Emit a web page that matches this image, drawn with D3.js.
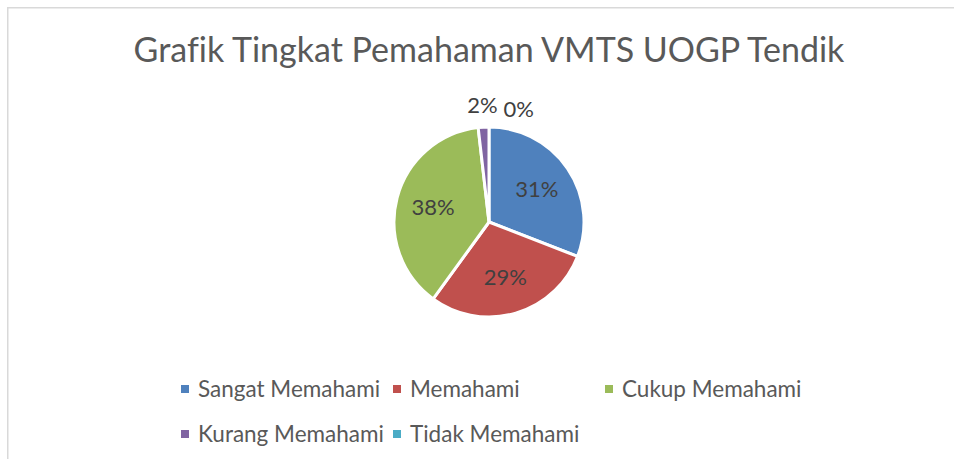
<!DOCTYPE html>
<html>
<head>
<meta charset="utf-8">
<script src="https://cdn.jsdelivr.net/npm/d3@7"></script>
<style>
  body { margin: 0; background: #fff; }
  svg { display: block; }
  text { font-variant-ligatures: none; }
</style>
</head>
<body>
<div id="chart"></div>
<script>
// data (respondent counts read from the percentages)
var categories = ["Sangat Memahami", "Memahami", "Cukup Memahami", "Kurang Memahami", "Tidak Memahami"];
var values = [17, 16, 21, 1, 0];
var colors = ["#4F81BD", "#C0504D", "#9BBB59", "#8064A2", "#4BACC6"];
var title = "Grafik Tingkat Pemahaman VMTS UOGP Tendik";

var width = 954, height = 459;
var font = "Lato, 'Open Sans', sans-serif";

var svg = d3.select("#chart")
  .append("svg")
    .attr("width", width)
    .attr("height", height);

// chart area border (cut off at right and bottom like the screenshot)
svg.append("rect")
  .attr("x", 7.75)
  .attr("y", 7.75)
  .attr("width", width + 20)
  .attr("height", height + 20)
  .attr("fill", "none")
  .attr("stroke", "#d9d9d9")
  .attr("stroke-width", 1.5);

// title
svg.append("text")
  .attr("x", 489)
  .attr("y", 62)
  .attr("text-anchor", "middle")
  .style("font-family", font)
  .style("font-size", "34px")
  .style("fill", "#595959")
  .text(title);

// pie
var cx = 489, cy = 222, radius = 95;
var total = d3.sum(values);
var fmt = d3.format(".0%");

var data = categories.map(function(c, i) {
  return { name: c, value: values[i], color: colors[i] };
});

var pie = d3.pie()
  .sort(null)
  .value(function(d) { return d.value; });

var arc = d3.arc()
  .innerRadius(0)
  .outerRadius(radius);

var arcs = pie(data);

var g = svg.append("g")
  .attr("transform", "translate(" + cx + "," + cy + ")");

g.selectAll("path")
  .data(arcs.filter(function(d) { return d.data.value > 0; }))
  .enter()
  .append("path")
    .attr("d", arc)
    .attr("fill", function(d) { return d.data.color; })
    .attr("stroke", "#fff")
    .attr("stroke-width", 3)
    .attr("stroke-linejoin", "round");

// labels: inside for big slices, outside for the tiny ones
var inArc = d3.arc().innerRadius(radius * 0.61).outerRadius(radius * 0.61);
var outR = radius + 22;
var placed = [];

arcs.forEach(function(d) {
  var share = d.data.value / total;
  var txt = fmt(share);
  var x, y;
  if (share >= 0.05) {
    var p = inArc.centroid(d);
    x = p[0]; y = p[1];
  } else {
    var a = (d.startAngle + d.endAngle) / 2;
    x = outR * Math.sin(a);
    y = -outR * Math.cos(a);
  }
  var t = g.append("text")
    .attr("x", x)
    .attr("y", y)
    .attr("dy", "0.35em")
    .attr("text-anchor", "middle")
    .style("font-family", font)
    .style("font-size", "22px")
    .style("fill", "#404040")
    .text(txt);

  // push overlapping outside labels to the right along the label circle
  if (share < 0.05) {
    var w = t.node().getComputedTextLength();
    placed.forEach(function(b) {
      if (Math.abs(b.x - x) < (b.w + w) / 2 + 6 && Math.abs(b.y - y) < 20) {
        x = b.x + (b.w + w) / 2 + 6;
        y = -Math.sqrt(Math.max(outR * outR - x * x, 0));
      }
    });
    t.attr("x", x).attr("y", y);
    placed.push({ x: x, y: y, w: w });
  }
});

// legend: 3 columns, 2 rows
var legX = 181, colW = 212, legY = 397, rowH = 45, perRow = 3;

var leg = svg.append("g")
  .selectAll("g")
  .data(data)
  .enter()
  .append("g")
    .attr("transform", function(d, i) {
      return "translate(" + (legX + (i % perRow) * colW) + "," + (legY + Math.floor(i / perRow) * rowH) + ")";
    });

leg.append("rect")
  .attr("x", 0)
  .attr("y", -12)
  .attr("width", 8)
  .attr("height", 8)
  .attr("fill", function(d) { return d.color; });

leg.append("text")
  .attr("x", 17)
  .attr("y", 0)
  .style("font-family", font)
  .style("font-size", "22.5px")
  .style("fill", "#595959")
  .text(function(d) { return d.name; });
</script>
</body>
</html>
